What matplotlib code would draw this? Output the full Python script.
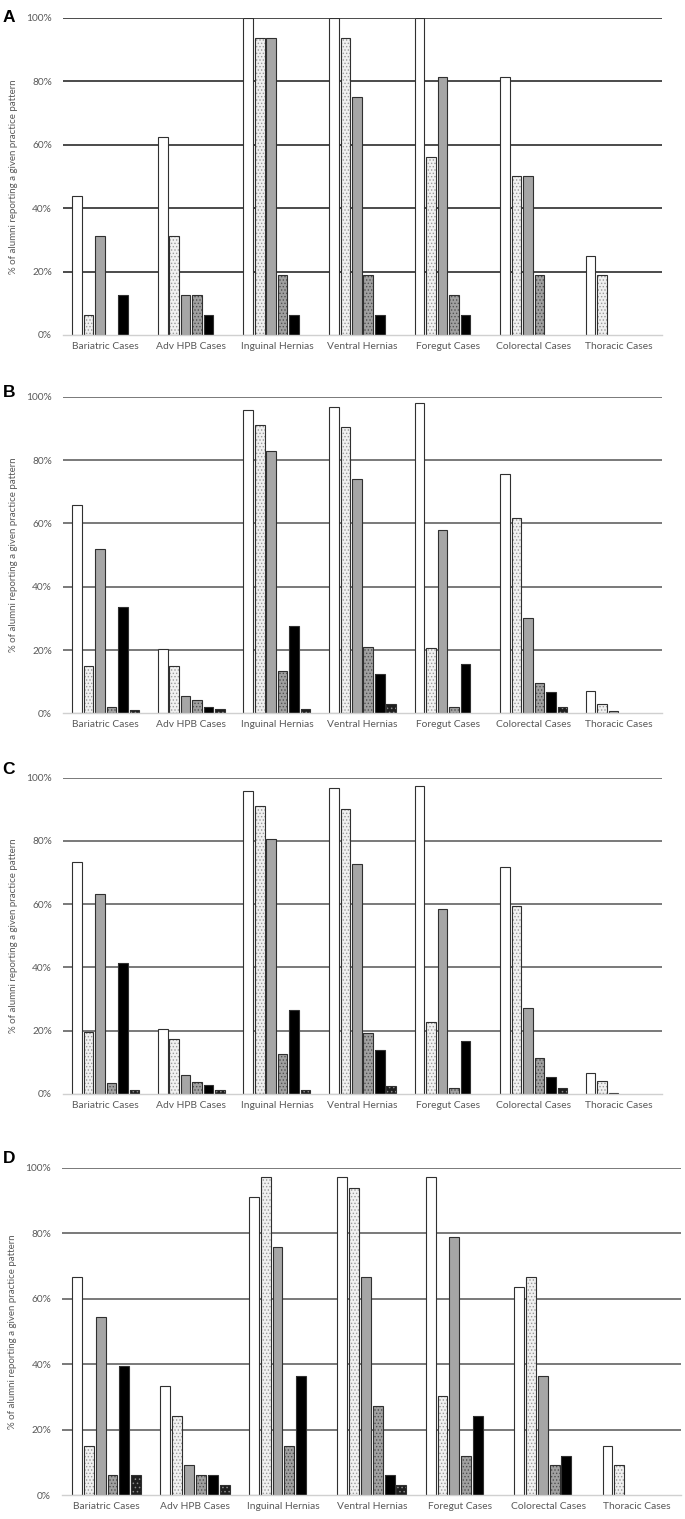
import numpy as np
import matplotlib
matplotlib.use("Agg")
import matplotlib.pyplot as plt

plt.rcParams['font.family'] = ['Lato', 'DejaVu Sans']
plt.rcParams['hatch.linewidth'] = 0.6

categories = ["Bariatric Cases", "Adv HPB Cases", "Inguinal Hernias", "Ventral Hernias",
              "Foregut Cases", "Colorectal Cases", "Thoracic Cases"]
y_ticks = [0, 20, 40, 60, 80, 100]
y_tick_labels = ["0%", "20%", "40%", "60%", "80%", "100%"]
panel_letters = ["A", "B", "C", "D"]

# rows = categories, columns = the six practice-pattern series (values in %)
values_a = [
    [43.75, 6.25, 31.25, 0, 12.5, 0],
    [62.5, 31.25, 12.5, 12.5, 6.25, 0],
    [100, 93.75, 93.75, 18.75, 6.25, 0],
    [100, 93.75, 75, 18.75, 6.25, 0],
    [100, 56.25, 81.25, 12.5, 6.25, 0],
    [81.25, 50, 50, 18.75, 0, 0],
    [25, 18.75, 0, 0, 0, 0],
]
values_b = [
    [65.8, 15.0, 51.8, 2.1, 33.7, 0.9],
    [20.2, 15.0, 5.6, 4.1, 2.1, 1.5],
    [95.8, 91.2, 83.0, 13.4, 27.5, 1.5],
    [96.7, 90.6, 74.0, 21.0, 12.3, 3.0],
    [97.9, 20.7, 57.9, 2.0, 15.5, 0],
    [75.7, 61.7, 30.0, 9.7, 6.7, 2.1],
    [6.9, 2.9, 0.8, 0, 0, 0],
]
values_c = [
    [73.3, 19.5, 63.3, 3.4, 41.4, 1.3],
    [20.5, 17.4, 6.0, 3.9, 2.8, 1.3],
    [95.8, 91.1, 80.5, 12.6, 26.5, 1.3],
    [96.6, 90.0, 72.7, 19.2, 13.9, 2.5],
    [97.3, 22.7, 58.6, 1.9, 16.9, 0],
    [71.8, 59.3, 27.3, 11.3, 5.4, 1.9],
    [6.5, 4.0, 0.4, 0, 0, 0],
]
values_d = [
    [66.7, 15.2, 54.5, 6.1, 39.4, 6.1],
    [33.3, 24.2, 9.1, 6.1, 6.1, 3.0],
    [90.9, 97.0, 75.8, 15.2, 36.4, 0],
    [97.0, 93.9, 66.7, 27.3, 6.1, 3.0],
    [97.0, 30.3, 78.8, 12.1, 24.2, 0],
    [63.6, 66.7, 36.4, 9.1, 12.1, 0],
    [15.2, 9.1, 0, 0, 0, 0],
]

# fill, hatch, hatch colour for each series
series_styles = [
    ("white", None, "white"),
    ("#f0f0f0", ".....", "#9a9a9a"),
    ("#a6a6a6", None, "#a6a6a6"),
    ("#a0a0a0", ".....", "#505050"),
    ("black", None, "black"),
    ("#1e1e1e", "....", "#8a8a8a"),
]

fig = plt.figure(figsize=(6.85, 15.19), dpi=100)

# left, bottom, width, height in figure fractions
axes_boxes = [
    [0.092, 0.7795, 0.8745, 0.2087],
    [0.092, 0.5304, 0.8745, 0.2084],
    [0.092, 0.2798, 0.8745, 0.2082],
    [0.091, 0.0156, 0.9036, 0.2157],
]
letter_y = [0.9935, 0.7465, 0.4985, 0.2420]
grid_colors = ["#1a1a1a", "#555555", "#555555", "#555555"]

slot = 0.134
width = 0.112
x = np.arange(len(categories))

for p, vals in enumerate([values_a, values_b, values_c, values_d]):
    ax = fig.add_axes(axes_boxes[p])
    vals = np.array(vals, dtype=float)
    for s in range(6):
        heights = np.where(vals[:, s] > 0, vals[:, s], np.nan)
        pos = x + (s - 2.5) * slot
        face, hatch, hcol = series_styles[s]
        ax.bar(pos, heights, width, color=face, edgecolor=hcol, hatch=hatch,
               linewidth=0, zorder=3)
        ax.bar(pos, heights, width, fill=False, edgecolor="#303030",
               linewidth=0.8, zorder=4)

    for yv in y_ticks[1:]:
        ax.axhline(yv, color=grid_colors[p], linewidth=1.1, zorder=1)

    ax.set_xlim(-0.5, len(categories) - 0.5)
    ax.set_ylim(0, 100)
    ax.set_yticks(y_ticks)
    ax.set_yticklabels(y_tick_labels, fontsize=7.3, color="#595959")
    ax.set_xticks(x)
    ax.set_xticklabels(categories, fontsize=7.4, color="#595959")
    ax.tick_params(axis="y", length=0, pad=8)
    ax.tick_params(axis="x", length=0, pad=5)
    for side in ["left", "right", "top"]:
        ax.spines[side].set_visible(False)
    ax.spines["bottom"].set_color("#d0d0d0")
    ax.spines["bottom"].set_linewidth(1.0)
    ax.spines["bottom"].set_zorder(5)
    ax.set_ylabel("% of alumni reporting a given practice pattern", fontsize=7,
                  color="#595959", labelpad=6)

    fig.text(0.004, letter_y[p], panel_letters[p], fontsize=12.5, fontweight="bold",
             family="Liberation Sans", va="top", ha="left")

fig.savefig("out.png", dpi=100)
